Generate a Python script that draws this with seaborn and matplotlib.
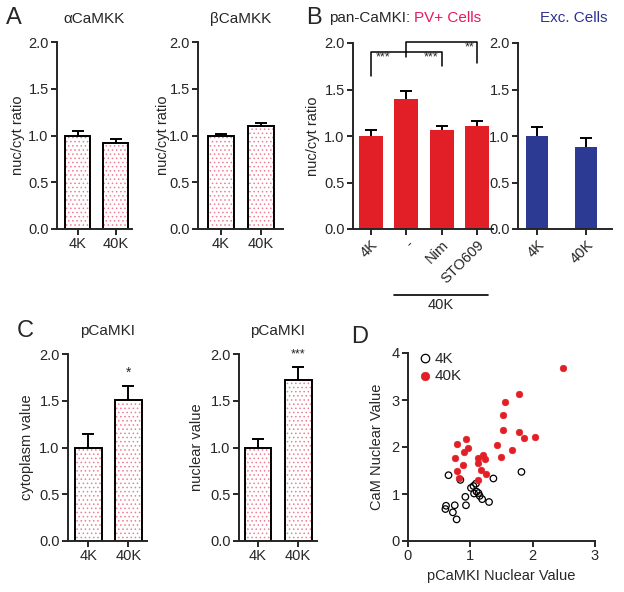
import numpy as np
import matplotlib
matplotlib.use('Agg')
import matplotlib.pyplot as plt
import seaborn as sns

sns.set_style('ticks')
plt.rcParams['font.family'] = ['Liberation Sans', 'DejaVu Sans']
plt.rcParams['hatch.linewidth'] = 0.6

# ---- data ----
two_groups = ['4K', '40K']
alpha_mean = [1.00, 0.92]
alpha_sem = [0.05, 0.04]
beta_mean = [1.00, 1.10]
beta_sem = [0.02, 0.03]

pv_groups = ['4K', '-', 'Nim', 'STO609']
pv_mean = [1.00, 1.40, 1.06, 1.11]
pv_sem = [0.06, 0.08, 0.05, 0.05]
exc_mean = [1.00, 0.88]
exc_sem = [0.10, 0.10]

cyto_mean = [1.00, 1.51]
cyto_sem = [0.14, 0.15]
nuc_mean = [1.00, 1.72]
nuc_sem = [0.09, 0.14]

k4_x = [0.65, 0.84, 1.82, 1.37, 1.09, 1.05, 1.01, 1.13, 1.06, 1.15, 1.19, 1.30,
        0.92, 0.93, 0.61, 0.60, 0.75, 0.72, 0.78, 1.10]
k4_y = [1.40, 1.30, 1.47, 1.33, 1.22, 1.17, 1.13, 1.02, 1.01, 0.96, 0.89, 0.83,
        0.94, 0.76, 0.75, 0.68, 0.76, 0.61, 0.46, 1.05]
k40_x = [2.48, 1.78, 1.56, 1.53, 1.53, 1.78, 1.86, 2.04, 1.42, 1.67, 1.49, 0.93,
         0.78, 0.97, 0.90, 0.76, 1.12, 1.20, 1.23, 1.12, 0.88, 0.79, 1.17, 1.25,
         0.82, 1.13]
k40_y = [3.69, 3.12, 2.95, 2.68, 2.36, 2.32, 2.19, 2.22, 2.04, 1.93, 1.78, 2.17,
         2.06, 1.97, 1.90, 1.77, 1.76, 1.84, 1.74, 1.67, 1.62, 1.49, 1.52, 1.42,
         1.34, 1.30]

RED = '#E21F26'
BLUE = '#2D3A94'
PINK = '#EE7E94'
PV_TXT = '#E5195E'
EXC_TXT = '#2E3192'
LW = 1.4

W, H = 624, 592
fig = plt.figure(figsize=(W / 100, H / 100), dpi=100)


def add_ax(x0, x1, y0, y1):
    # pixel box, y measured from the top
    return fig.add_axes([x0 / W, 1 - y1 / H, (x1 - x0) / W, (y1 - y0) / H])


def style(ax, xlim, ylabel, label_x, ylim=(0, 2), yticks=np.arange(0, 2.01, 0.5), fmt='{:.1f}'):
    sns.despine(ax=ax)
    ax.set_xlim(xlim)
    ax.set_ylim(ylim)
    ax.set_yticks(yticks)
    ax.set_yticklabels([fmt.format(t) for t in yticks])
    for s in ['left', 'bottom']:
        ax.spines[s].set_linewidth(LW)
    ax.tick_params(width=LW, length=4, labelsize=10.5, pad=2)
    ax.set_xlabel('')
    ax.set_ylabel(ylabel, fontsize=10.5)
    y_mid = (ax.get_position().y0 + ax.get_position().y1) / 2
    ax.yaxis.set_label_coords((label_x + 7) / W, y_mid, transform=fig.transFigure)


def errbars(ax, means, sems):
    n = len(means)
    eb = ax.errorbar(range(n), means, yerr=[np.zeros(n), sems], fmt='none',
                     ecolor='black', elinewidth=LW, capsize=4, capthick=LW, zorder=5)
    eb[1][0].set_visible(False)


def dotted_bars(ax, labels, means, sems, width):
    sns.barplot(x=labels, y=means, color='white', edgecolor=PINK, hatch='....',
                linewidth=0, width=width, ax=ax)
    sns.barplot(x=labels, y=means, fill=False, color='black', linewidth=LW,
                width=width, ax=ax)
    errbars(ax, means, sems)


# ---- A ----
ax = add_ax(57, 132, 42, 229)
dotted_bars(ax, two_groups, alpha_mean, alpha_sem, 0.66)
style(ax, (-0.54, 1.43), 'nuc/cyt ratio', 18)
ax.set_title('\u03b1CaMKK', fontsize=11, pad=14)

ax = add_ax(198, 283, 42, 229)
dotted_bars(ax, two_groups, beta_mean, beta_sem, 0.63)
style(ax, (-0.575, 1.55), 'nuc/cyt ratio', 163)
ax.set_title('\u03b2CaMKK', fontsize=11, pad=14)

# ---- B ----
ax = add_ax(353, 493, 43, 229)
sns.barplot(x=pv_groups, y=pv_mean, color=RED, saturation=1, linewidth=0, width=0.68, ax=ax)
errbars(ax, pv_mean, pv_sem)
style(ax, (-0.51, 3.46), 'nuc/cyt ratio', 313)
plt.setp(ax.get_xticklabels(), rotation=45, ha='right', rotation_mode='anchor')
bk = dict(color='black', lw=1.1, clip_on=False)
ax.plot([0, 0, 2, 2], [1.65, 1.90, 1.90, 1.75], **bk)
ax.plot([1, 1, 3, 3], [1.85, 2.01, 2.01, 1.78], **bk)
ax.text(0.35, 1.84, '***', ha='center', va='center', fontsize=9)
ax.text(1.7, 1.84, '***', ha='center', va='center', fontsize=9)
ax.text(2.8, 1.95, '**', ha='center', va='center', fontsize=9)
fig.add_artist(plt.Line2D([394 / W, 488 / W], [1 - 295 / H, 1 - 295 / H], color='black', lw=1.2))
fig.text(441 / W, 1 - 305 / H, '40K', ha='center', va='center', fontsize=10.5)

ax = add_ax(518, 612, 43, 229)
sns.barplot(x=two_groups, y=exc_mean, color=BLUE, saturation=1, linewidth=0, width=0.45, ax=ax)
errbars(ax, exc_mean, exc_sem)
style(ax, (-0.39, 1.53), '', 0)
plt.setp(ax.get_xticklabels(), rotation=45, ha='right', rotation_mode='anchor')

fig.text(329 / W, 1 - 18 / H, 'pan-CaMKI:', ha='left', va='center', fontsize=11)
fig.text(414 / W, 1 - 18 / H, 'PV+ Cells', ha='left', va='center', fontsize=11, color=PV_TXT)
fig.text(540 / W, 1 - 18 / H, 'Exc. Cells', ha='left', va='center', fontsize=11, color=EXC_TXT)

# ---- C ----
ax = add_ax(68, 147, 354, 541)
dotted_bars(ax, two_groups, cyto_mean, cyto_sem, 0.67)
style(ax, (-0.5, 1.46), 'cytoplasm value', 27)
ax.set_title('pCaMKI', fontsize=11, pad=14)
ax.text(1, 1.80, '*', ha='center', va='center', fontsize=10)

ax = add_ax(239, 317, 354, 541)
dotted_bars(ax, two_groups, nuc_mean, nuc_sem, 0.67)
style(ax, (-0.475, 1.47), 'nuclear value', 197)
ax.set_title('pCaMKI', fontsize=11, pad=14)
ax.text(1, 2.0, '***', ha='center', va='center', fontsize=9, clip_on=False)

# ---- D ----
ax = add_ax(408, 595, 353, 541)
sns.scatterplot(x=k4_x, y=k4_y, marker='o', s=22, facecolor='none', edgecolor='black',
                linewidth=0.9, label='4K', ax=ax)
sns.scatterplot(x=k40_x, y=k40_y, marker='o', s=22, color=RED, edgecolor=RED,
                linewidth=0.5, label='40K', ax=ax)
style(ax, (0, 3), 'CaM Nuclear Value', 377, ylim=(0, 4), yticks=np.arange(0, 5, 1), fmt='{:.0f}')
ax.set_xticks([0, 1, 2, 3])
ax.set_xlabel('pCaMKI Nuclear Value', fontsize=10.5)
ax.legend(loc='upper left', bbox_to_anchor=(0.02, 1.04), frameon=False, fontsize=11,
          handletextpad=0.1, handlelength=1.0, labelspacing=0.25, borderaxespad=0,
          markerscale=1.3)

# ---- panel letters ----
for letter, x, y in [('A', 14, 18), ('B', 314, 18), ('C', 25, 331), ('D', 360, 337)]:
    fig.text(x / W, 1 - y / H, letter, ha='center', va='center', fontsize=17)

fig.savefig('out.png', dpi=100)
